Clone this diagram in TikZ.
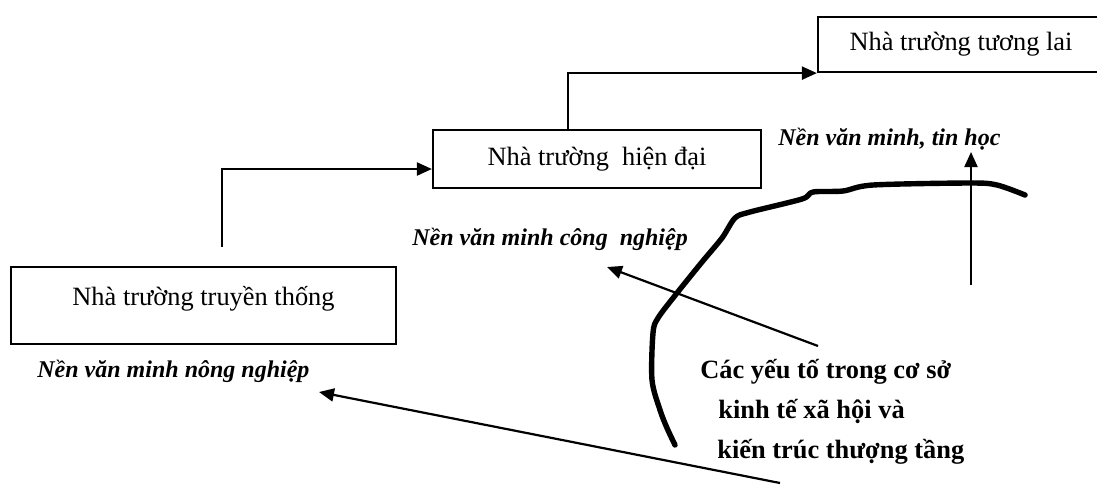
\documentclass[tikz,border=0pt]{standalone}
\usepackage{fontspec}
\setmainfont{Liberation Serif}
\usetikzlibrary{arrows.meta}

\begin{document}
\begin{tikzpicture}[x=0.5pt,y=-0.5pt,
    box/.style={draw,line width=1.1pt,inner sep=0pt,font=\fontsize{13.2}{16}\selectfont,text height=9pt,text depth=3pt},
    era/.style={anchor=base west,inner sep=0pt,font=\fontsize{12}{14}\selectfont\bfseries\itshape},
    arr/.style={-{Triangle[length=7.5pt,width=6.5pt]},line width=1.1pt}]
  \useasboundingbox (0,0) rectangle (1097,484);
  \clip (0,0) rectangle (1097,484);

  \node[box,minimum width=192.5pt,minimum height=38.5pt,text height=9pt,text depth=9pt] (trad) at (203.5,305.5) {Nhà trường truyền thống};
  \node[box,minimum width=164pt,minimum height=29pt] (modern) at (597,159) {Nhà trường~ hiện đại};
  \node[box,minimum width=143pt,minimum height=27.5pt] (future) at (961,44.5) {Nhà trường tương lai};

  \node[era] (agri) at (37,377) {Nền văn minh nông nghiệp};
  \node[era] (indus) at (412,245) {Nền văn minh công~ nghiệp};
  \node[era] (info) at (778,145) {Nền văn minh, tin học};

  \node[anchor=base west,inner sep=0pt,align=left,font=\fontsize{13.2}{20}\selectfont\bfseries] (factors) at (700,458)
    {Các yếu tố trong cơ sở\\\hspace*{9pt}kinh tế xã hội và\\\hspace*{8.5pt}kiến trúc thượng tầng};

  \coordinate (s1) at (222,247);
  \coordinate (s2) at (568,130);
  \coordinate (f1) at (818,346);
  \coordinate (f2) at (780,483);
  \coordinate (f3) at (971,285);
  \coordinate (e1) at (319,392);
  \coordinate (e2) at (607,267);
  \coordinate (e3) at (971,152);

  %trad>modern>future
  \draw[arr] (s1) |- ([yshift=-5pt]modern.west);
  \draw[arr] (s2) |- (future.south west);

  %factors>eras
  \draw[arr] (f2) -- (e1);
  \draw[arr] (f1) -- (e2);
  \draw[arr] (f3) -- (e3);

  %boundary
  \draw[line width=2.7pt,line cap=round,line join=round] plot[smooth,tension=0.5] coordinates
    {(675,445) (667,428) (660,410) (652,380) (653,333) (658,318) (677,293) (702,262) (722,238) (735,218) (750,212) (802,199) (813,192) (843,191) (873,185) (970,183) (997,185) (1025,195)};
\end{tikzpicture}
\end{document}
